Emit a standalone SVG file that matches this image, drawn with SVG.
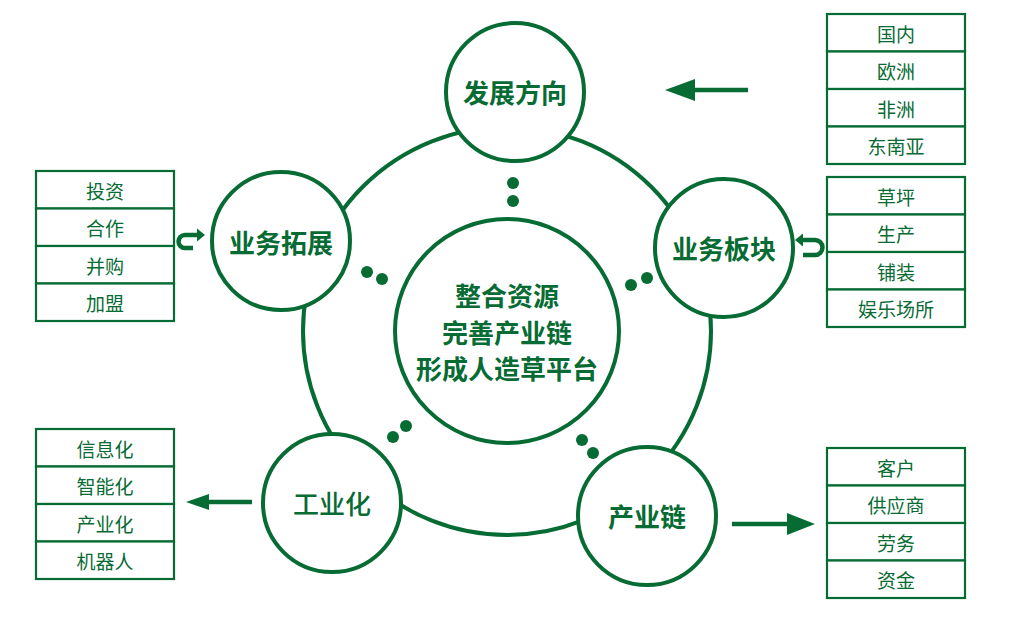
<svg xmlns="http://www.w3.org/2000/svg" width="1015" height="633" viewBox="0 0 1015 633">
<style>
.ring{fill:none;stroke:#076B34;stroke-width:4}
.node{fill:#fff;stroke:#076B34;stroke-width:4}
.dot{fill:#076B34}
.cell{fill:#fff;stroke:#076B34;stroke-width:2.2}
.lbl{font-family:"Noto Sans CJK SC","Liberation Sans",sans-serif;font-size:26px;font-weight:bold;fill:#076B34;text-anchor:middle;dominant-baseline:central}
.cl{font-family:"Noto Sans CJK SC","Liberation Sans",sans-serif;font-size:19px;fill:#076B34;text-anchor:middle;dominant-baseline:central}
.ln{fill:none;stroke:#076B34;stroke-width:4.5}
.ah{fill:#076B34}
</style>
<rect width="1015" height="633" fill="#fff"/>
<circle class="ring" cx="507" cy="331" r="204"/>
<g id="center">
<circle class="node" cx="507" cy="331" r="112"/>
<text class="lbl" x="507" y="294">整合资源</text>
<text class="lbl" x="507" y="331">完善产业链</text>
<text class="lbl" x="507" y="367">形成人造草平台</text>
</g>
<g id="fazhan">
<circle class="node" cx="515" cy="92" r="69"/>
<text class="lbl" x="515" y="91">发展方向</text>
</g>
<g id="bankuai">
<circle class="node" cx="724" cy="248" r="69"/>
<text class="lbl" x="724" y="247">业务板块</text>
</g>
<g id="chanye">
<circle class="node" cx="647" cy="516" r="69"/>
<text class="lbl" x="647" y="515">产业链</text>
</g>
<g id="gongye">
<circle class="node" cx="332" cy="503" r="69"/>
<text class="lbl" x="332" y="502" style="font-weight:500">工业化</text>
</g>
<g id="tuozhan">
<circle class="node" cx="281" cy="241" r="69"/>
<text class="lbl" x="281" y="241">业务拓展</text>
</g>
<g id="dots">
<circle class="dot" cx="513" cy="183" r="6"/>
<circle class="dot" cx="513" cy="201" r="6"/>
<circle class="dot" cx="631" cy="285" r="6"/>
<circle class="dot" cx="647" cy="278" r="6"/>
<circle class="dot" cx="367" cy="272" r="6"/>
<circle class="dot" cx="382" cy="279" r="6"/>
<circle class="dot" cx="393" cy="437" r="6"/>
<circle class="dot" cx="406" cy="426" r="6"/>
<circle class="dot" cx="582" cy="440" r="6"/>
<circle class="dot" cx="593" cy="453" r="6"/>
</g>
<g id="table-direction">
<rect class="cell" x="827" y="14" width="138" height="37.5"/>
<rect class="cell" x="827" y="51.5" width="138" height="37.5"/>
<rect class="cell" x="827" y="89" width="138" height="37.5"/>
<rect class="cell" x="827" y="126.5" width="138" height="37.5"/>
<text class="cl" x="896" y="33">国内</text>
<text class="cl" x="896" y="70.5">欧洲</text>
<text class="cl" x="896" y="108">非洲</text>
<text class="cl" x="896" y="145.5">东南亚</text>
</g>
<g id="table-business">
<rect class="cell" x="827" y="177" width="138" height="37.5"/>
<rect class="cell" x="827" y="214.5" width="138" height="37.5"/>
<rect class="cell" x="827" y="252" width="138" height="37.5"/>
<rect class="cell" x="827" y="289.5" width="138" height="37.5"/>
<text class="cl" x="896" y="196">草坪</text>
<text class="cl" x="896" y="233.5">生产</text>
<text class="cl" x="896" y="271">铺装</text>
<text class="cl" x="896" y="308.5">娱乐场所</text>
</g>
<g id="table-chain">
<rect class="cell" x="827" y="448" width="138" height="37.5"/>
<rect class="cell" x="827" y="485.5" width="138" height="37.5"/>
<rect class="cell" x="827" y="523" width="138" height="37.5"/>
<rect class="cell" x="827" y="560.5" width="138" height="37.5"/>
<text class="cl" x="896" y="467">客户</text>
<text class="cl" x="896" y="504.5">供应商</text>
<text class="cl" x="896" y="542">劳务</text>
<text class="cl" x="896" y="579.5">资金</text>
</g>
<g id="table-expand">
<rect class="cell" x="36" y="171" width="138" height="37.5"/>
<rect class="cell" x="36" y="208.5" width="138" height="37.5"/>
<rect class="cell" x="36" y="246" width="138" height="37.5"/>
<rect class="cell" x="36" y="283.5" width="138" height="37.5"/>
<text class="cl" x="105" y="190">投资</text>
<text class="cl" x="105" y="227.5">合作</text>
<text class="cl" x="105" y="265">并购</text>
<text class="cl" x="105" y="302.5">加盟</text>
</g>
<g id="table-industry">
<rect class="cell" x="36" y="429" width="138" height="37.5"/>
<rect class="cell" x="36" y="466.5" width="138" height="37.5"/>
<rect class="cell" x="36" y="504" width="138" height="37.5"/>
<rect class="cell" x="36" y="541.5" width="138" height="37.5"/>
<text class="cl" x="105" y="448">信息化</text>
<text class="cl" x="105" y="485.5">智能化</text>
<text class="cl" x="105" y="523">产业化</text>
<text class="cl" x="105" y="560.5">机器人</text>
</g>
<g id="connectors">
<line class="ln" x1="748" y1="90" x2="692" y2="90"/>
<polygon class="ah" points="665,90 695,79 695,101"/>
<line class="ln" x1="252" y1="502" x2="206" y2="502"/>
<polygon class="ah" points="186,502 209,494 209,510"/>
<line class="ln" x1="732" y1="524" x2="790" y2="524"/>
<polygon class="ah" points="815,524 787,513 787,535"/>
<path class="ln" d="M193 248 L185 248 A6.5 6.5 0 0 1 185 235 L198 235"/>
<polygon class="ah" points="205,235 197,228.5 197,241.5"/>
<path class="ln" d="M803 255 L815 255 A7.5 7.5 0 0 0 815 240 L801 240"/>
<polygon class="ah" points="795,240 803,233.5 803,246.5"/>
</g>
</svg>
